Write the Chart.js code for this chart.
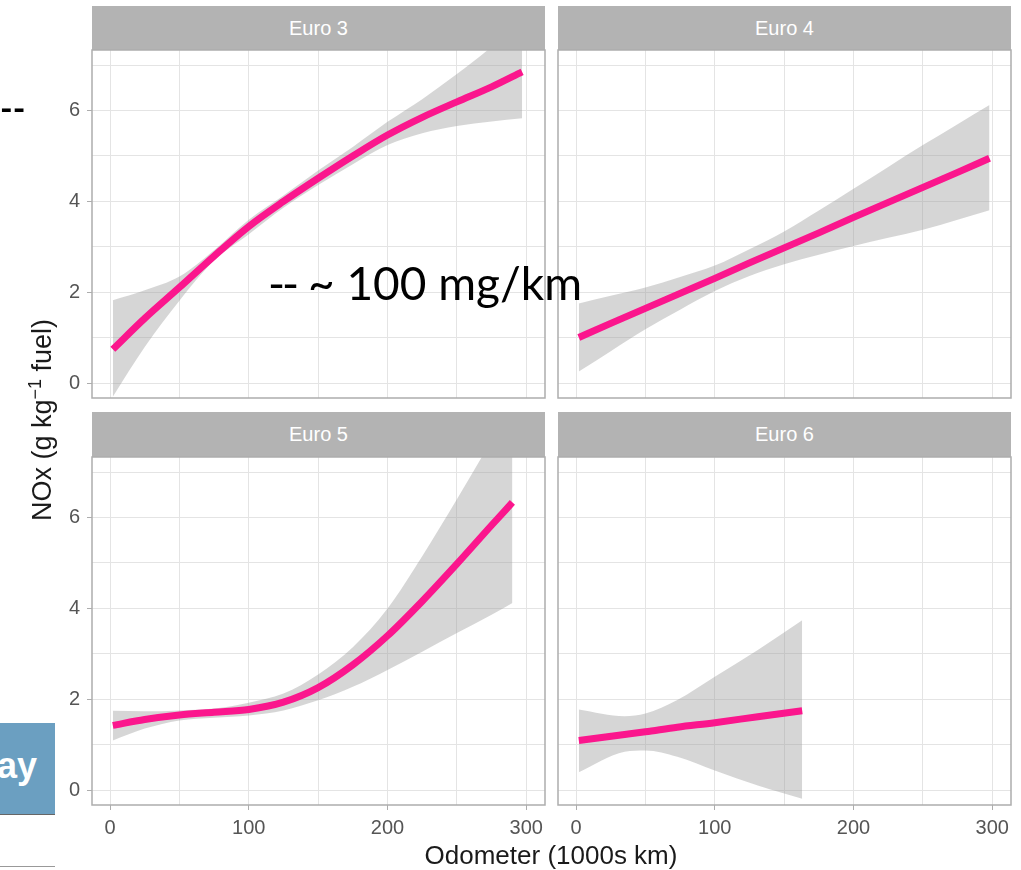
<!DOCTYPE html>
<html>
<head>
<meta charset="utf-8">
<script src="https://cdn.jsdelivr.net/npm/chart.js@4.4.0/dist/chart.umd.min.js"></script>
<style>
body { margin:0; width:1021px; height:870px; position:relative; overflow:hidden; background:#fff; font-family:"Liberation Sans", Arial, sans-serif; }
canvas { position:absolute; }
.strip { position:absolute; background:#b3b3b3; color:#fff; font-size:20px; text-align:center; }
.ttl { position:absolute; color:#1a1a1a; text-align:center; white-space:nowrap; }
.note { position:absolute; font-family:Lato, "Open Sans", sans-serif; color:#000; white-space:nowrap; z-index:5; }
</style>
</head>
<body>
<!-- bits of the slide behind the plot -->
<div class="note" style="left:0;top:88px;font-size:34px;font-weight:bold;line-height:40px;">--</div>
<div class="note" style="left:268px;top:255px;font-size:46px;line-height:56px;"><span style="letter-spacing:-3px;">--</span> ~ 100 mg/km</div>
<div style="position:absolute;left:0;top:723px;width:55px;height:91px;background:#6b9fc1;border-bottom:1px solid #666;overflow:hidden;">
  <div style="position:absolute;right:18px;top:22px;color:#fff;font:bold 36px 'Liberation Sans',Arial,sans-serif;">ay</div>
</div>
<div style="position:absolute;left:0;top:866px;width:55px;height:1px;background:#999;"></div>

<div class="strip" style="left:92px;top:6px;width:453px;height:44px;line-height:44px;">Euro 3</div>
<div class="strip" style="left:558px;top:6px;width:453px;height:44px;line-height:44px;">Euro 4</div>
<div class="strip" style="left:92px;top:412px;width:453px;height:45px;line-height:45px;">Euro 5</div>
<div class="strip" style="left:558px;top:412px;width:453px;height:45px;line-height:45px;">Euro 6</div>

<canvas id="euro3" width="552" height="356" style="left:0;top:48px;"></canvas>
<canvas id="euro4" width="465" height="356" style="left:556px;top:48px;"></canvas>
<canvas id="euro5" width="552" height="400" style="left:0;top:455px;"></canvas>
<canvas id="euro6" width="465" height="400" style="left:556px;top:455px;"></canvas>

<div class="ttl" style="left:351px;top:840px;width:400px;line-height:30px;font-size:26px;">Odometer (1000s km)</div>
<div class="ttl" style="left:-115px;top:404px;width:300px;height:32px;line-height:32px;font-size:27px;transform:rotate(-90deg);">NOx (g kg<sup style="font-size:18px;">&minus;1</sup> fuel)</div>

<script>
// axis limits and ticks (shared by all facets)
var xMin = -13, xMax = 313.5;
var yMin = -0.32, yMax = 7.33;
var xGrid = [0, 50, 100, 150, 200, 250, 300];
var xMajor = [0, 100, 200, 300];
var yGrid = [0, 1, 2, 3, 4, 5, 6, 7];
var yMajor = [0, 2, 4, 6];

// Euro 3
var euro3X     = [2, 25, 50, 75, 100, 125, 150, 175, 200, 225, 250, 275, 297];
var euro3Fit   = [0.75, 1.43, 2.11, 2.80, 3.45, 4.00, 4.51, 5.00, 5.46, 5.85, 6.19, 6.52, 6.85];
var euro3Upper = [1.83, 2.05, 2.35, 2.93, 3.60, 4.13, 4.68, 5.20, 5.75, 6.25, 6.80, 7.40, 8.00];
var euro3Lower = [-0.29, 0.80, 1.82, 2.70, 3.28, 3.86, 4.36, 4.82, 5.24, 5.50, 5.66, 5.76, 5.83];

// Euro 4
var euro4X     = [2, 25, 50, 75, 100, 125, 150, 175, 200, 225, 250, 275, 298];
var euro4Fit   = [1.01, 1.32, 1.65, 1.98, 2.31, 2.65, 2.98, 3.31, 3.65, 3.98, 4.31, 4.64, 4.95];
var euro4Upper = [1.76, 1.93, 2.11, 2.34, 2.59, 2.95, 3.34, 3.80, 4.28, 4.76, 5.24, 5.70, 6.12];
var euro4Lower = [0.26, 0.71, 1.19, 1.62, 2.03, 2.36, 2.62, 2.83, 3.02, 3.20, 3.38, 3.60, 3.81];

// Euro 5
var euro5X     = [2, 25, 50, 75, 100, 125, 150, 175, 200, 225, 250, 275, 290];
var euro5Fit   = [1.43, 1.56, 1.66, 1.72, 1.78, 1.94, 2.26, 2.76, 3.40, 4.16, 4.98, 5.83, 6.33];
var euro5Upper = [1.75, 1.74, 1.76, 1.80, 1.93, 2.13, 2.55, 3.15, 4.00, 5.15, 6.40, 7.70, 8.50];
var euro5Lower = [1.10, 1.36, 1.54, 1.60, 1.65, 1.76, 1.98, 2.28, 2.65, 3.05, 3.46, 3.86, 4.12];

// Euro 6
var euro6X     = [2, 35, 50, 73, 100, 131, 163];
var euro6Fit   = [1.10, 1.23, 1.29, 1.39, 1.49, 1.62, 1.75];
var euro6Upper = [1.78, 1.63, 1.69, 1.99, 2.50, 3.09, 3.74];
var euro6Lower = [0.40, 0.85, 0.88, 0.74, 0.44, 0.11, -0.18];

var frame = {
  id: 'frame',
  afterDraw: function(chart) {
    var a = chart.chartArea, c = chart.ctx;
    c.save();
    c.strokeStyle = '#adadad';
    c.lineWidth = 1.5;
    c.strokeRect(a.left, a.top, a.right - a.left, a.bottom - a.top);
    c.restore();
  }
};

function pts(xs, ys) {
  return xs.map(function(x, i) { return {x: x, y: ys[i]}; });
}

function noPad(s) {
  s.paddingTop = 0; s.paddingBottom = 0; s.paddingLeft = 0; s.paddingRight = 0;
}

function makePanel(id, xs, fit, up, lo, leftCol, bottomRow) {
  return new Chart(document.getElementById(id), {
    type: 'line',
    data: {
      // first dataset is drawn last, so the fitted line sits on top of the band
      datasets: [
        {data: pts(xs, fit), borderColor: '#fb168d', borderWidth: 7, borderCapStyle: 'butt', pointRadius: 0, fill: false, clip: 0},
        {data: pts(xs, up), borderWidth: 0, pointRadius: 0, fill: false, clip: 0},
        {data: pts(xs, lo), borderWidth: 0, pointRadius: 0, fill: '-1', backgroundColor: 'rgba(153,153,153,0.4)', clip: 0}
      ]
    },
    options: {
      responsive: false,
      animation: false,
      events: [],
      layout: {padding: {top: 2, left: 0, bottom: 0, right: leftCol ? 7 : 10}},
      elements: {line: {cubicInterpolationMode: 'monotone'}},
      plugins: {legend: {display: false}, tooltip: {enabled: false}},
      scales: {
        x: {
          type: 'linear', min: xMin, max: xMax,
          afterBuildTicks: function(s) { s.ticks = xGrid.map(function(v) { return {value: v}; }); },
          afterFit: function(s) { s.height = bottomRow ? 50 : 6; noPad(s); },
          border: {display: false},
          grid: {
            color: '#e4e4e4', lineWidth: 1,
            drawTicks: bottomRow, tickLength: 5,
            tickColor: function(ctx) { return ctx.tick && xMajor.indexOf(ctx.tick.value) >= 0 ? '#adadad' : 'rgba(0,0,0,0)'; }
          },
          ticks: {
            display: bottomRow, padding: 6, maxRotation: 0, autoSkip: false,
            color: '#555', font: {family: 'Liberation Sans', size: 20},
            callback: function(v) { return xMajor.indexOf(v) >= 0 ? String(v) : ''; }
          }
        },
        y: {
          type: 'linear', min: yMin, max: yMax,
          afterBuildTicks: function(s) { s.ticks = yGrid.map(function(v) { return {value: v}; }); },
          afterFit: function(s) { s.width = leftCol ? 92 : 2; noPad(s); },
          border: {display: false},
          grid: {
            color: '#e4e4e4', lineWidth: 1,
            drawTicks: leftCol, tickLength: 5,
            tickColor: function(ctx) { return ctx.tick && yMajor.indexOf(ctx.tick.value) >= 0 ? '#adadad' : 'rgba(0,0,0,0)'; }
          },
          ticks: {
            display: leftCol, padding: 7, autoSkip: false,
            color: '#555', font: {family: 'Liberation Sans', size: 20},
            callback: function(v) { return yMajor.indexOf(v) >= 0 ? String(v) : ''; }
          }
        }
      }
    },
    plugins: [frame]
  });
}

makePanel('euro3', euro3X, euro3Fit, euro3Upper, euro3Lower, true, false);
makePanel('euro4', euro4X, euro4Fit, euro4Upper, euro4Lower, false, false);
makePanel('euro5', euro5X, euro5Fit, euro5Upper, euro5Lower, true, true);
makePanel('euro6', euro6X, euro6Fit, euro6Upper, euro6Lower, false, true);
</script>
</body>
</html>
